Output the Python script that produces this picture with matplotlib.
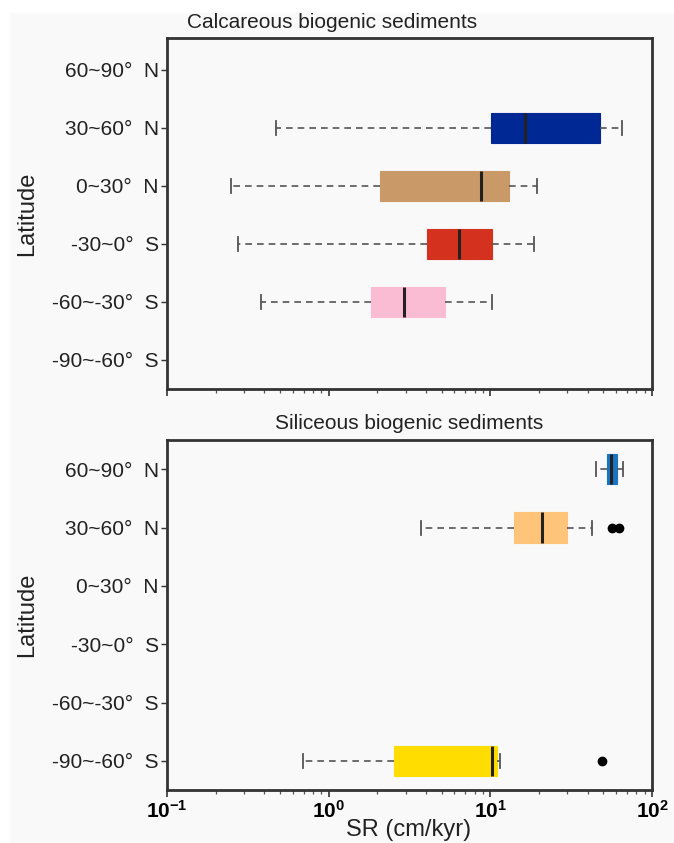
import numpy as np
import matplotlib.pyplot as plt
from matplotlib.patches import Rectangle
from matplotlib.ticker import LogLocator, NullFormatter, FixedLocator, FixedFormatter

plt.rcParams['font.family'] = ['Liberation Sans', 'DejaVu Sans']
plt.rcParams['mathtext.fontset'] = 'custom'
plt.rcParams['mathtext.bf'] = 'Liberation Sans:bold'
plt.rcParams['mathtext.rm'] = 'Liberation Sans'

# Latitude bands, top to bottom
bands = ['60~90°  N', '30~60°  N', '0~30°  N', '-30~0°  S', '-60~-30°  S', '-90~-60°  S']

# Calcareous: (band index, whislo, q1, med, q3, whishi)
calc_idx = [1, 2, 3, 4]
calc_whislo = [0.475, 0.25, 0.273, 0.384]
calc_q1 = [10.1, 2.07, 4.04, 1.83]
calc_med = [16.3, 8.76, 6.38, 2.93]
calc_q3 = [47.8, 12.98, 10.2, 5.27]
calc_whishi = [65.6, 19.4, 18.7, 10.2]
calc_fliers = [[], [], [], []]
calc_colors = ['#002894', '#c99a68', '#d4321f', '#f9bcd3']

# Siliceous
sili_idx = [0, 1, 5]
sili_whislo = [45.3, 3.70, 0.695]
sili_q1 = [52.5, 14.06, 2.52]
sili_med = [56.1, 21.0, 10.2]
sili_q3 = [60.5, 29.7, 11.0]
sili_whishi = [66.5, 42.8, 11.4]
sili_fliers = [[], [56.9, 62.6], [48.9]]
sili_colors = ['#1a74c2', '#fec57a', '#ffdd00']

xticks = [0.1, 1, 10, 100]
xticklabels = [r'$\mathbf{10^{-1}}$', r'$\mathbf{10^{0}}$', r'$\mathbf{10^{1}}$', r'$\mathbf{10^{2}}$']

fig = plt.figure(figsize=(6.74, 8.43), dpi=100)
fig.patch.set_facecolor('white')
fig.patches.append(Rectangle((10 / 674, 0), 1 - 10 / 674, 1 - 13 / 843,
                             transform=fig.transFigure, facecolor='#f9f9f9',
                             edgecolor='none', zorder=-10))

ax1 = fig.add_axes([167 / 674, (843 - 389) / 843, 485 / 674, 351 / 843])
ax2 = fig.add_axes([167 / 674, (843 - 790) / 843, 485 / 674, 350 / 843])


def draw(ax, idx, lo, q1, med, q3, hi, fliers, colors):
    stats = []
    for i in range(len(idx)):
        stats.append(dict(whislo=lo[i], q1=q1[i], med=med[i], q3=q3[i],
                          whishi=hi[i], fliers=fliers[i]))
    bp = ax.bxp(stats, positions=idx, vert=False, widths=0.52, patch_artist=True,
                capwidths=0.24,
                whiskerprops=dict(color='#555555', linestyle=(0, (4, 3)), linewidth=1.2),
                capprops=dict(color='#555555', linewidth=1.3),
                medianprops=dict(color='#222222', linewidth=2.2),
                flierprops=dict(marker='o', markerfacecolor='black',
                                markeredgecolor='black', markersize=6))
    for box, c in zip(bp['boxes'], colors):
        box.set_facecolor(c)
        box.set_edgecolor(c)
        box.set_linewidth(0.8)


draw(ax1, calc_idx, calc_whislo, calc_q1, calc_med, calc_q3, calc_whishi,
     calc_fliers, calc_colors)
draw(ax2, sili_idx, sili_whislo, sili_q1, sili_med, sili_q3, sili_whishi,
     sili_fliers, sili_colors)

for ax in (ax1, ax2):
    ax.set_facecolor('#f9f9f9')
    ax.set_xscale('log')
    ax.set_xlim(0.1, 100)
    ax.yaxis.set_major_locator(FixedLocator(range(len(bands))))
    ax.yaxis.set_major_formatter(FixedFormatter(bands))
    ax.xaxis.set_major_locator(FixedLocator(xticks))
    ax.xaxis.set_minor_locator(LogLocator(base=10, subs=np.arange(2, 10)))
    ax.xaxis.set_minor_formatter(NullFormatter())
    ax.tick_params(axis='y', labelsize=15, length=4, width=1, color='#333333',
                   labelcolor='#222222', pad=2)
    ax.tick_params(axis='x', which='major', length=5, width=1.2, color='#333333',
                   pad=2)
    ax.tick_params(axis='x', which='minor', length=3, width=0.9, color='#555555')
    for s in ax.spines.values():
        s.set_linewidth(2)
        s.set_color('#333333')
    ax.set_ylabel('Latitude', fontsize=17, color='#222222', labelpad=10)

ax1.set_ylim(5.5, -0.55)
ax2.set_ylim(5.5, -0.5)
ax1.set_xticklabels([])
ax2.set_xticklabels(xticklabels, fontsize=15)

fig.text(409 / 674, 1 - 830 / 843, 'SR (cm/kyr)', fontsize=17,
         ha='center', va='center', color='#222222')
fig.text(332 / 674, 1 - 22 / 843, 'Calcareous biogenic sediments', fontsize=15,
         ha='center', va='center', color='#222222')
fig.text(409 / 674, 1 - 423 / 843, 'Siliceous biogenic sediments', fontsize=15,
         ha='center', va='center', color='#222222')

fig.savefig('out.png', dpi=100)
